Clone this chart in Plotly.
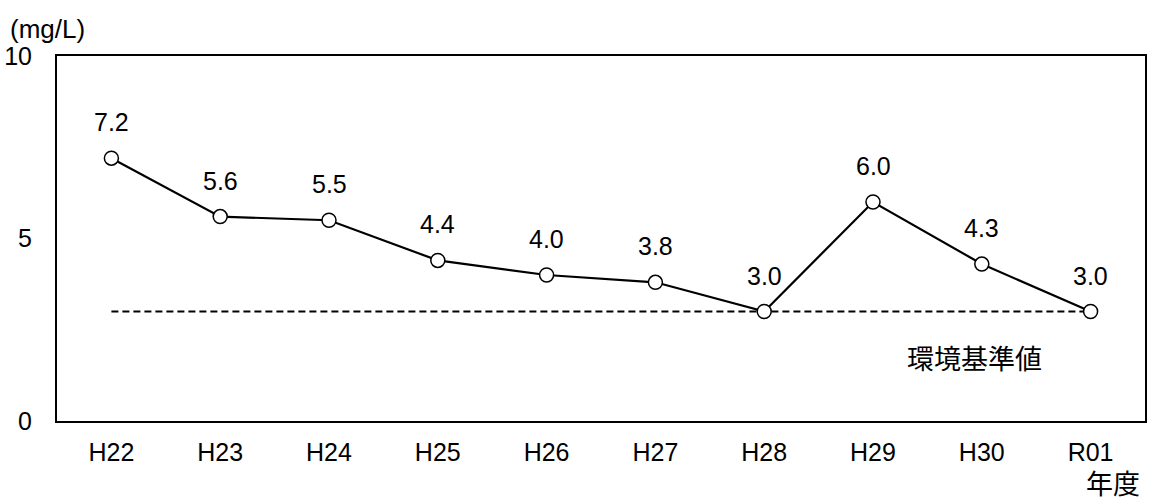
import plotly.graph_objects as go

years = ["H22", "H23", "H24", "H25", "H26", "H27", "H28", "H29", "H30", "R01"]
values = [7.2, 5.6, 5.5, 4.4, 4.0, 3.8, 3.0, 6.0, 4.3, 3.0]
standard = 3.0
y_ticks = [0, 5, 10]

FONT = "Arial, Liberation Sans, Noto Sans CJK JP, sans-serif"
FS = 25
FS_CJK = 27
W, H = 1150, 501
L, R, T, B = 57, 3, 56, 80

fig = go.Figure()
fig.add_trace(go.Scatter(
    x=[years[0], years[-1]], y=[standard, standard], mode="lines",
    line=dict(color="black", width=2.2, dash="7px,4px"), hoverinfo="skip",
))
fig.add_trace(go.Scatter(
    x=years, y=values, mode="lines+markers",
    line=dict(color="black", width=2.2),
    marker=dict(symbol="circle", size=14, color="white",
                line=dict(color="black", width=1.5)),
))

for yr, v in zip(years, values):
    fig.add_annotation(x=yr, y=v, text=f"{v:.1f}", showarrow=False,
                       xanchor="center", yanchor="middle",
                       yshift=36, font=dict(size=FS, color="black", family=FONT))

pw = W - L - R
ph = H - T - B
def px(xp):
    return (xp - L) / pw
def py(yp):
    return (H - B - yp) / ph

fig.add_annotation(xref="paper", yref="paper", x=px(976), y=py(360),
                   xanchor="center", yanchor="middle",
                   text="環境基準値", showarrow=False,
                   font=dict(size=FS_CJK, color="black", family=FONT))
fig.add_annotation(xref="paper", yref="paper", x=px(1115), y=py(485),
                   xanchor="center", yanchor="middle",
                   text="年度", showarrow=False,
                   font=dict(size=FS_CJK, color="black", family=FONT))
fig.add_annotation(xref="paper", yref="paper", x=px(8), y=py(29),
                   xanchor="left", yanchor="middle", text="(mg/L)", showarrow=False,
                   font=dict(size=26, color="black", family=FONT))

fig.update_layout(
    width=W, height=H,
    margin=dict(l=L, r=R, t=T, b=B),
    paper_bgcolor="white", plot_bgcolor="white",
    showlegend=False,
    font=dict(family=FONT, size=FS, color="black"),
)
fig.update_xaxes(
    type="category", categoryorder="array", categoryarray=years,
    range=[-0.5, len(years) - 0.5],
    showline=True, linecolor="black", linewidth=2, mirror=True,
    showgrid=False, zeroline=False, ticks="", ticklabelstandoff=8,
    tickfont=dict(size=FS, family=FONT, color="black"),
)
fig.update_yaxes(
    range=[0, 10], tickvals=y_ticks, ticktext=[str(t) for t in y_ticks],
    showline=True, linecolor="black", linewidth=2, mirror=True,
    showgrid=False, zeroline=False, ticks="", ticklabelstandoff=18,
    tickfont=dict(size=FS, family=FONT, color="black"),
)

fig.write_html("out.html", config={"displayModeBar": False},
               post_script="document.body.style.margin='0';document.body.style.overflow='hidden';")
